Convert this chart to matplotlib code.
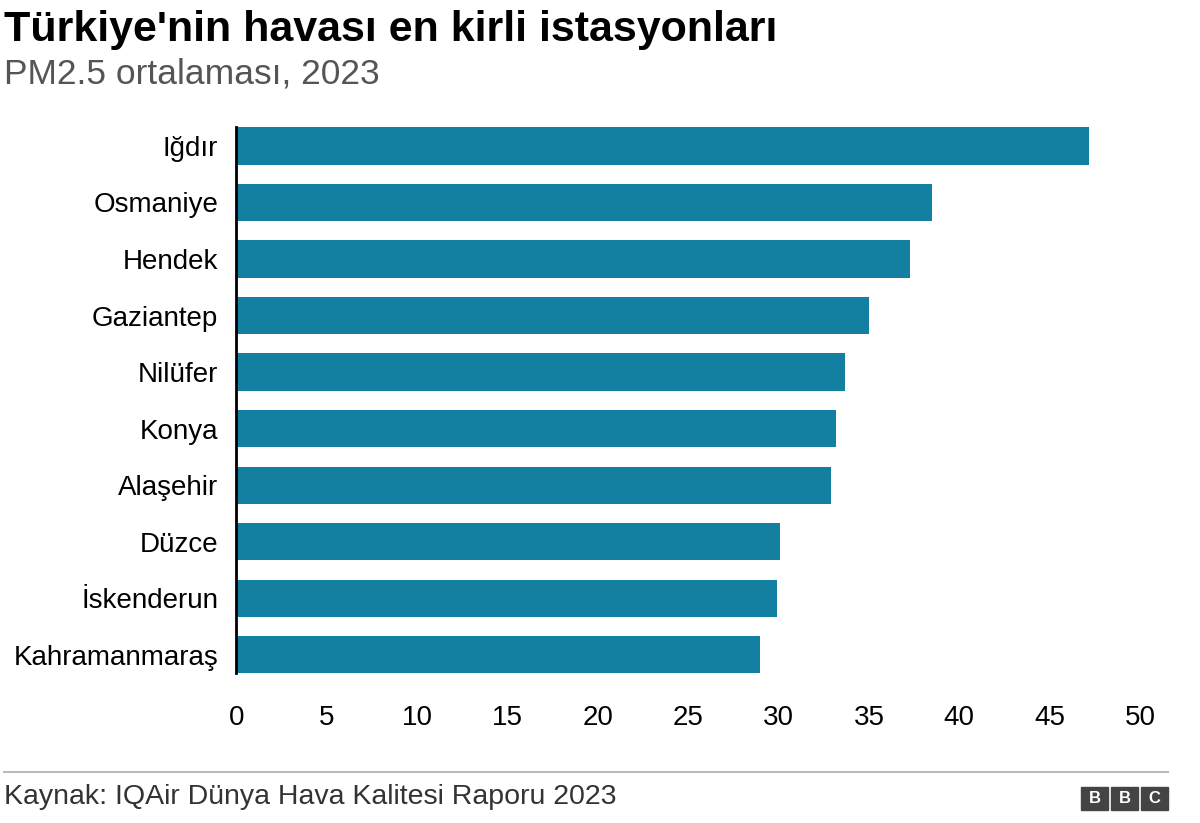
import matplotlib.pyplot as plt
from matplotlib.patches import Rectangle

stations = ["Iğdır", "Osmaniye", "Hendek", "Gaziantep", "Nilüfer", "Konya",
            "Alaşehir", "Düzce", "İskenderun", "Kahramanmaraş"]
pm25 = [47.2, 38.5, 37.3, 35.0, 33.7, 33.2, 32.9, 30.1, 29.9, 29.0]
xticks = [0, 5, 10, 15, 20, 25, 30, 35, 40, 45, 50]

plt.rcParams['font.family'] = ['Liberation Sans', 'DejaVu Sans']

fig = plt.figure(figsize=(12, 8.23), dpi=100)
ax = fig.add_axes([0.197, 0.170, 0.753, 0.687])

bh = 0.66
ax.barh(range(len(stations)), pm25, height=bh, color='#1380A1')
ax.set_ylim(len(stations) - 0.5, -0.5)
ax.set_xlim(0, 50)
ax.set_yticks(range(len(stations)))
ax.set_yticklabels(stations, fontsize=20)
ax.set_xticks(xticks)
ax.set_xticklabels([str(t) for t in xticks], fontsize=20)
ax.tick_params(length=0, pad=13)
ax.tick_params(axis='x', pad=16)
for s in ['top', 'right', 'bottom']:
    ax.spines[s].set_visible(False)
ax.spines['left'].set_bounds(-bh / 2, len(stations) - 1 + bh / 2)
ax.spines['left'].set_linewidth(2)

fig.text(0.003, 0.963, "Türkiye'nin havası en kirli istasyonları", fontsize=31,
         fontweight='bold', va='center')
fig.text(0.003, 0.91, "PM2.5 ortalaması, 2023", fontsize=25.5, color='#555555', va='center')

fig.add_artist(plt.Line2D([0.003, 0.973], [0.062, 0.062], color='#bbbbbb', lw=1.5))
fig.text(0.003, 0.031, "Kaynak: IQAir Dünya Hava Kalitesi Raporu 2023", fontsize=20.5,
         color='#333333', va='center')

# BBC logo
bw, bhh, gap = 0.022, 0.028, 0.003
x0 = 0.973 - 3 * bw - 2 * gap
for i, ch in enumerate("BBC"):
    x = x0 + i * (bw + gap)
    fig.add_artist(Rectangle((x, 0.016), bw, bhh, color='#444444', transform=fig.transFigure))
    fig.text(x + bw / 2, 0.016 + bhh / 2, ch, color='white', fontsize=12,
             fontweight='bold', ha='center', va='center')

fig.savefig("out.png", dpi=100)
